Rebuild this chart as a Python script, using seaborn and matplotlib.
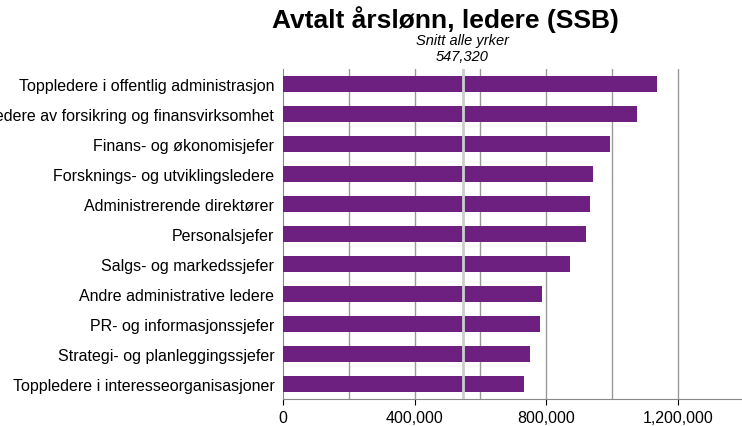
import matplotlib
matplotlib.use("Agg")
import matplotlib.pyplot as plt
import seaborn as sns
import pandas as pd

plt.rcParams["font.family"] = "Liberation Sans"

categories = ["Toppledere i offentlig administrasjon",
              "Ledere av forsikring og finansvirksomhet",
              "Finans- og økonomisjefer",
              "Forsknings- og utviklingsledere",
              "Administrerende direktører",
              "Personalsjefer",
              "Salgs- og markedssjefer",
              "Andre administrative ledere",
              "PR- og informasjonssjefer",
              "Strategi- og planleggingssjefer",
              "Toppledere i interesseorganisasjoner"]
values = [1136000, 1076000, 994000, 942000, 933000, 921000, 872000, 787000, 781000, 751000, 732000]
average = 547320
ticks = [0, 400000, 800000, 1200000]
tick_labels = ["0", "400,000", "800,000", "1,200,000"]

df = pd.DataFrame({"cat": categories, "val": values})
fig = plt.figure(figsize=(7.42, 4.27), dpi=100)
ax = fig.add_axes([0.381, 0.063, 0.622, 0.773])
sns.barplot(data=df, x="val", y="cat", color="#6E2080", saturation=1, width=0.52, ax=ax, zorder=3)
ax.set_xlim(0, 1400000)
for g in range(200000, 1400001, 200000):
    ax.axvline(g, color="#999999", lw=1, zorder=1)
ax.axvline(average, color="#cccccc", lw=2, zorder=4)
ax.set_xticks(ticks)
ax.set_xticklabels(tick_labels, fontsize=11.5)
ax.tick_params(axis="y", labelsize=11.5, length=0, pad=6)
ax.tick_params(axis="x", length=4)
ax.set_xlabel(""); ax.set_ylabel("")
for s in ["top", "right"]:
    ax.spines[s].set_visible(False)
ax.spines["left"].set_color("#888888")
ax.spines["bottom"].set_color("#888888")
fig.text(0.6, 0.935, "Avtalt årslønn, ledere (SSB)", ha="center", fontsize=19, fontweight="bold")
fig.text(0.623, 0.895, "Snitt alle yrker", ha="center", fontsize=10.5, style="italic")
fig.text(0.623, 0.857, "547,320", ha="center", fontsize=10.5, style="italic")
fig.savefig("out.png", dpi=100)
